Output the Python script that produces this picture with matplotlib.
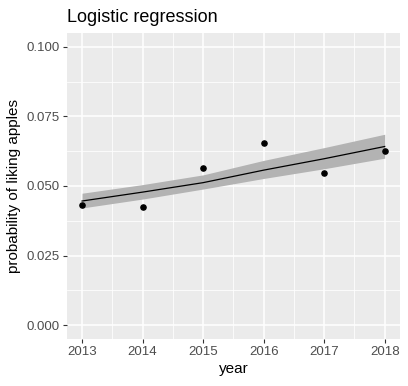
import matplotlib.pyplot as plt
from matplotlib.ticker import MultipleLocator

plt.rcParams['font.family'] = ['Liberation Sans', 'DejaVu Sans']

# observed proportions per year
years = [2013, 2014, 2015, 2016, 2017, 2018]
prob = [0.0433, 0.0426, 0.0563, 0.0653, 0.0548, 0.0627]

# fitted logistic curve and its confidence band
fit = [0.0446, 0.0478, 0.0512, 0.0557, 0.0598, 0.0642]
fit_lo = [0.0421, 0.0453, 0.0489, 0.0527, 0.0562, 0.0600]
fit_hi = [0.0474, 0.0505, 0.0540, 0.0592, 0.0638, 0.0686]

fig = plt.figure(figsize=(4.08, 3.86), dpi=100)
ax = fig.add_axes([0.164, 0.1218, 0.816, 0.7927])
ax.set_facecolor('#EBEBEB')

ax.fill_between(years, fit_lo, fit_hi, color='#B3B3B3', lw=0, zorder=2)
ax.plot(years, fit, color='black', lw=0.9, zorder=3)
ax.scatter(years, prob, color='black', s=14, zorder=4)

ax.set_xlim(2012.75, 2018.25)
ax.set_ylim(-0.005, 0.105)
ax.xaxis.set_major_locator(MultipleLocator(1))
ax.xaxis.set_minor_locator(MultipleLocator(0.5))
ax.yaxis.set_major_locator(MultipleLocator(0.025))
ax.yaxis.set_minor_locator(MultipleLocator(0.0125))
ax.set_yticks([0, 0.025, 0.05, 0.075, 0.1])
ax.set_yticklabels(['0.000', '0.025', '0.050', '0.075', '0.100'])

ax.grid(which='major', color='white', lw=1.1)
ax.grid(which='minor', color='white', lw=0.55)
ax.set_axisbelow(True)
for s in ax.spines.values():
    s.set_visible(False)

ax.tick_params(which='major', length=3, width=0.8, color='#333333',
               labelsize=9.5, labelcolor='#4D4D4D', pad=2)
ax.tick_params(which='minor', length=0)

ax.set_xlabel('year', fontsize=11, labelpad=3)
ax.set_ylabel('probability of liking apples', fontsize=11, labelpad=4)
ax.set_title('Logistic regression', fontsize=13, loc='left', pad=8)

fig.savefig('out.png', dpi=100)
